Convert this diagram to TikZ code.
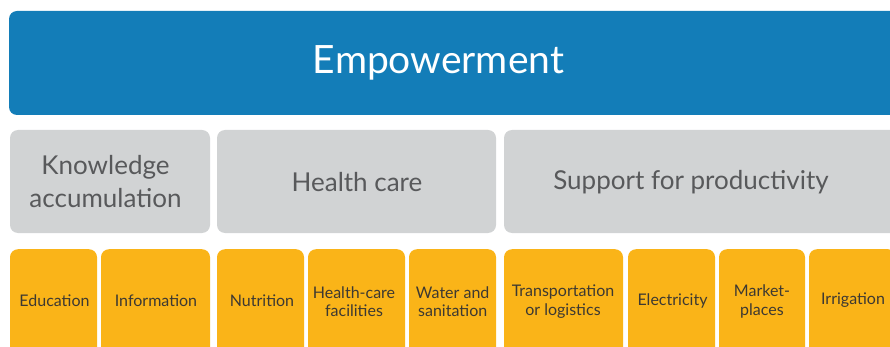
\documentclass[tikz,border=0pt]{standalone}
\usepackage{fontspec}
\setmainfont{Lato}
\definecolor{empblue}{HTML}{137DB8}
\definecolor{catgray}{HTML}{D1D3D4}
\definecolor{itemyellow}{HTML}{FAB418}
\definecolor{graytext}{HTML}{58595B}
\definecolor{darktext}{HTML}{3D3932}
\begin{document}
\begin{tikzpicture}[x=1pt,y=-1pt,
  box/.style={rectangle, rounded corners=8pt, inner sep=0pt, draw=none},
  bluebox/.style={box, fill=empblue},
  graybox/.style={box, fill=catgray, minimum height=103pt},
  yellowbox/.style={box, fill=itemyellow, minimum height=120pt, anchor=north},
  emplbl/.style={inner sep=0pt, text=white, font=\fontsize{39}{44}\selectfont},
  catlbl/.style={inner sep=0pt, text=graytext, align=center, font=\fontsize{26}{33}\selectfont},
  itemlbl/.style={inner sep=0pt, text=darktext, align=center, font=\fontsize{16}{18.5}\selectfont}]
\useasboundingbox (0,0) rectangle (890,347);
\clip (0,0) rectangle (890,347);
% top
\node[bluebox, minimum width=896pt, minimum height=104pt] (emp) at (457,63) {};
\node[emplbl] (empt) at (438.5,62.5) {Empowerment};
% categories
\node[graybox, minimum width=200pt] (know) at (110,181.5) {};
\node[graybox, minimum width=279pt] (health) at (356.5,181.5) {};
\node[graybox, minimum width=401pt] (supp) at (704.5,181.5) {};
\node[catlbl] (knowt) at (105.5,181.5) {Knowledge\\accumulation};
\node[catlbl] (healtht) at (357,182.5) {Health care};
\node[catlbl] (suppt) at (691,182.5) {Support for productivity};
% items
\node[yellowbox, minimum width=87pt] (edu) at (53.5,249) {};
\node[yellowbox, minimum width=109pt] (info) at (155.5,249) {};
\node[yellowbox, minimum width=87pt] (nutr) at (260.5,249) {};
\node[yellowbox, minimum width=97pt] (hcf) at (356.5,249) {};
\node[yellowbox, minimum width=87pt] (water) at (452.5,249) {};
\node[yellowbox, minimum width=119pt] (trans) at (563.5,249) {};
\node[yellowbox, minimum width=87pt] (elec) at (671.5,249) {};
\node[yellowbox, minimum width=86pt] (market) at (762,249) {};
\node[yellowbox, minimum width=87pt] (irr) at (852.5,249) {};
\node[itemlbl] (edut) at (54.5,300.5) {Education};
\node[itemlbl] (infot) at (156,300.5) {Information};
\node[itemlbl] (nutrt) at (262,300.5) {Nutrition};
\node[itemlbl] (hcft) at (354,301.5) {Health-care\\facilities};
\node[itemlbl] (watert) at (452.7,301.5) {Water and\\sanitation};
\node[itemlbl] (transt) at (563,301.5) {Transportation\\or logistics};
\node[itemlbl] (elect) at (672.5,300.5) {Electricity};
\node[itemlbl] (markett) at (762,301.5) {Market-\\places};
\node[itemlbl] (irrt) at (853,300.5) {Irrigation};
\end{tikzpicture}
\end{document}
